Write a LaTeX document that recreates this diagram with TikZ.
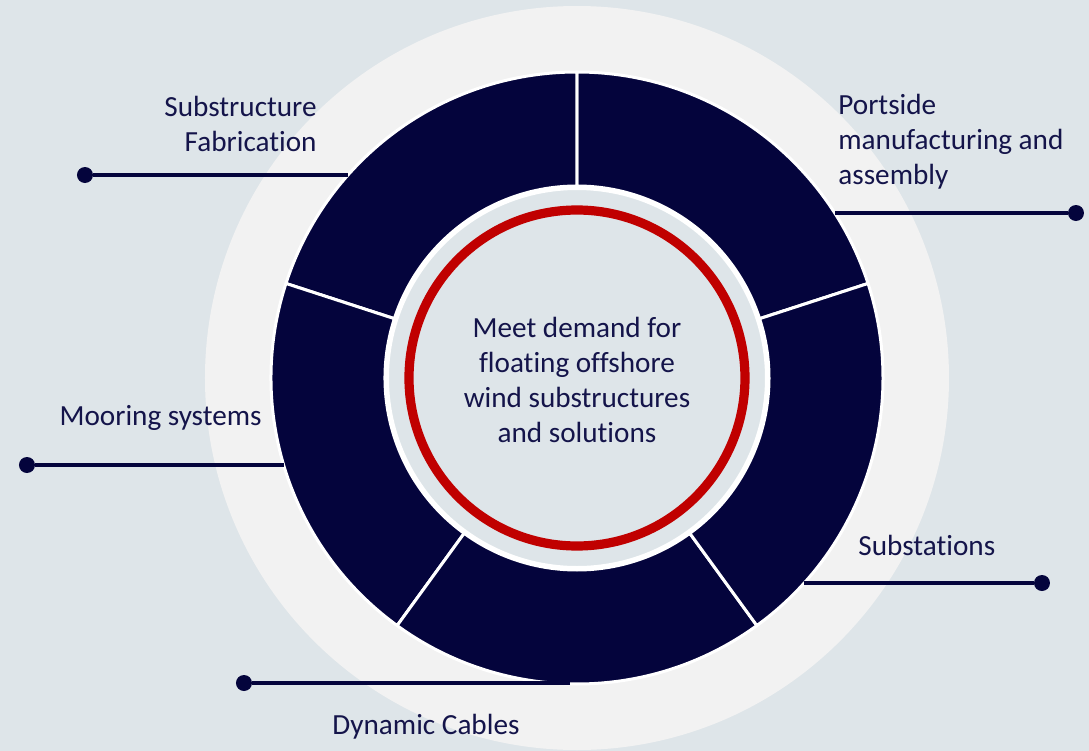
\documentclass[tikz,border=0pt]{standalone}
\usepackage{fontspec}
\setmainfont{Carlito}[Ligatures=NoCommon]
\usepackage{tikz}
\usetikzlibrary{calc,positioning}

\definecolor{bgblue}{HTML}{DEE5E9}
\definecolor{ringgrey}{HTML}{F2F2F2}
\definecolor{navy}{HTML}{04043C}
\definecolor{txtnavy}{HTML}{14144A}
\definecolor{ringred}{HTML}{C00000}

\begin{document}
\begin{tikzpicture}[x=0.5pt,y=0.5pt,
		lbl/.style={text=txtnavy,font=\fontsize{14.6}{17.5}\selectfont,inner sep=0pt},
		link/.style={navy,line width=1.8pt},
		dot/.style={circle,fill=navy,inner sep=0pt,minimum size=8pt}]
		% background and big pale disc
		\fill[bgblue] (-577,-373) rectangle (512,378);
		\useasboundingbox (-577,-373) rectangle (512,378);
		\fill[ringgrey] (0,0) circle (372);
		% the five dark segments
		\foreach \a in {18,90,162,234,306}{
			\filldraw[fill=navy,draw=white,line width=1.5pt,line join=round]
			(\a:192) -- (\a:306) arc[start angle=\a,end angle=\a+72,radius=306]
			-- (\a+72:192) arc[start angle=\a+72,end angle=\a,radius=192] -- cycle;
		}
		% inner disc with the red ring
		\filldraw[fill=bgblue,draw=white,line width=2pt] (0,0) circle (190);
		\draw[ringred,line width=4.6pt] (0,0) circle (168);
		\node[lbl,align=center] (goal) at (0,-2) {Meet demand for\\floating offshore\\wind substructures\\and solutions};
		
		% points on the outer rim
		\coordinate (rimfab) at (-229,203);
		\coordinate (rimport) at (258,165);
		\coordinate (rimmoor) at (-293,-87);
		\coordinate (rimsub) at (227,-205);
		\coordinate (rimcab) at (-7,-305);
		
		% end dots
		\node[dot] (dfab) at (-492,203) {};
		\node[dot] (dport) at (499,165) {};
		\node[dot] (dmoor) at (-550,-87) {};
		\node[dot] (dsub) at (465,-205) {};
		\node[dot] (dcab) at (-333,-305) {};
		
		\draw[link] (dfab) -- (rimfab);
		\draw[link] (rimport) -- (dport);
		\draw[link] (dmoor) -- (rimmoor);
		\draw[link] (rimsub) -- (dsub);
		\draw[link] (dcab) -- (rimcab);
		
		% labels
		\node[lbl,align=right,anchor=east] (fab) at (-260,254) {Substructure\\Fabrication};
		\node[lbl,align=left,anchor=west] (port) at (261,236) {Portside\\manufacturing and\\assembly};
		\node[lbl,anchor=east] (moor) at (-315,-40) {Mooring systems};
		\node[lbl,anchor=west] (sub) at (281,-167) {Substations};
		\node[lbl] (cab) at (-151,-349) {Dynamic Cables};
	\end{tikzpicture}
\end{document}
